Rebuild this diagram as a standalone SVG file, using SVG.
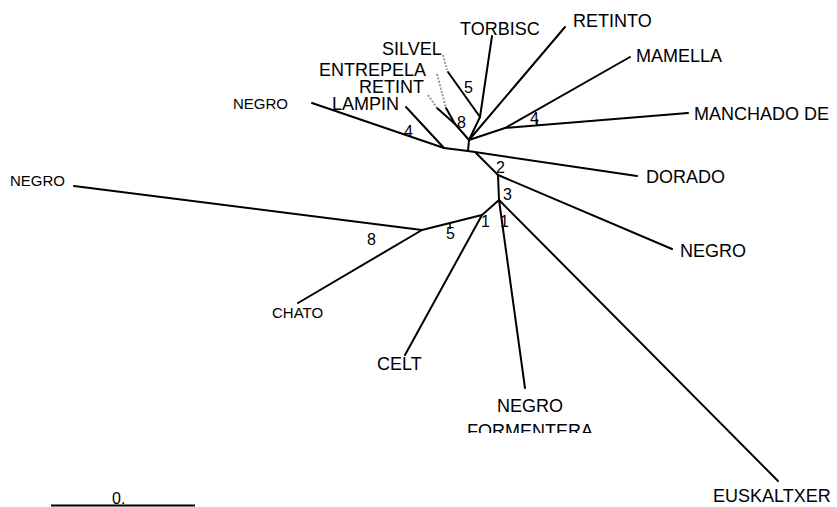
<svg xmlns="http://www.w3.org/2000/svg" width="837" height="507" viewBox="0 0 837 507">
<style>
.lbl{font-family:"Liberation Sans",Arial,sans-serif;font-size:18px;fill:#000}
.sm{font-size:15px}
.num{font-family:"Liberation Sans",Arial,sans-serif;font-size:16px;fill:#000}
.br{stroke:#000;stroke-width:2;fill:none;stroke-linecap:round}
.dt{stroke:#999;stroke-width:2;fill:none;stroke-dasharray:2 1.5}
.tk{stroke:#000;stroke-width:1.5;fill:none}
</style>
<defs>
<clipPath id="clipF"><rect x="0" y="0" width="837" height="433"/></clipPath>
</defs>
<rect width="837" height="507" fill="#fff"/>
<g id="connectors">
<line class="br" x1="444" y1="148" x2="468" y2="151"/>
<line class="br" x1="468" y1="151" x2="469" y2="140"/>
<line class="br" x1="480" y1="117" x2="469" y2="140"/>
<line class="br" x1="455" y1="124" x2="469" y2="140"/>
<line class="br" x1="469" y1="140" x2="505" y2="128"/>
<line class="br" x1="476" y1="153" x2="498" y2="175"/>
<line class="br" x1="498" y1="175" x2="499" y2="200"/>
<line class="br" x1="499" y1="200" x2="482" y2="215"/>
<line class="br" x1="482" y1="215" x2="422" y2="230"/>
<line class="br" x1="312" y1="103" x2="444" y2="148"/>
<line class="br" x1="406" y1="107" x2="444" y2="148"/>
<line class="br" x1="437" y1="108" x2="455" y2="124"/>
<line class="dt" x1="428" y1="95" x2="437" y2="108"/>
<line class="br" x1="446" y1="108" x2="455" y2="124"/>
<line class="dt" x1="437" y1="74" x2="446" y2="108"/>
<line class="br" x1="448" y1="72" x2="480" y2="117"/>
<line class="dt" x1="443" y1="55" x2="447" y2="70"/>
<line class="br" x1="492" y1="36" x2="480" y2="117"/>
<line class="br" x1="565" y1="27" x2="469" y2="140"/>
<line class="br" x1="505" y1="128" x2="630" y2="57"/>
<line class="br" x1="505" y1="128" x2="688" y2="113"/>
<line class="br" x1="468" y1="151" x2="637" y2="176"/>
<line class="br" x1="498" y1="175" x2="672" y2="249"/>
<line class="br" x1="499" y1="200" x2="778" y2="481"/>
<line class="br" x1="499" y1="200" x2="525" y2="388"/>
<line class="br" x1="482" y1="215" x2="405" y2="355"/>
<line class="br" x1="422" y1="230" x2="74" y2="186"/>
<line class="br" x1="422" y1="230" x2="298" y2="303"/>
<line class="tk" x1="537" y1="119" x2="537" y2="126"/>
<line class="tk" x1="450" y1="224" x2="450" y2="229"/>
<line x1="51" y1="505.5" x2="195" y2="505.5" stroke="#000" stroke-width="2"/>
</g>
<g id="numbers">
<text class="num" x="464" y="93">5</text>
<text class="num" x="457" y="128">8</text>
<text class="num" x="404" y="137">4</text>
<text class="num" x="530" y="124">4</text>
<text class="num" x="496" y="173">2</text>
<text class="num" x="503" y="200">3</text>
<text class="num" x="481" y="227">1</text>
<text class="num" x="500" y="227">1</text>
<text class="num" x="446" y="239">5</text>
<text class="num" x="367" y="245">8</text>
<text class="num" x="112" y="504">0.</text>
</g>
<g id="n-torbisc"><text class="lbl" x="460" y="35">TORBISC</text></g>
<g id="n-retinto"><text class="lbl" x="573" y="27">RETINTO</text></g>
<g id="n-mamella"><text class="lbl" x="636" y="62">MAMELLA</text></g>
<g id="n-manchado"><text class="lbl" x="694" y="120">MANCHADO DE</text></g>
<g id="n-dorado"><text class="lbl" x="646" y="183">DORADO</text></g>
<g id="n-negro-r"><text class="lbl" x="680" y="257">NEGRO</text></g>
<g id="n-euskaltxer"><text class="lbl" x="713" y="502">EUSKALTXER</text></g>
<g id="n-negro-form"><text class="lbl" x="497" y="412">NEGRO</text><text class="lbl" x="467" y="437" clip-path="url(#clipF)">FORMENTERA</text></g>
<g id="n-celt"><text class="lbl" x="377" y="370">CELT</text></g>
<g id="n-chato"><text class="lbl sm" x="272" y="318">CHATO</text></g>
<g id="n-negro-l"><text class="lbl sm" x="10" y="186">NEGRO</text></g>
<g id="n-negro-ul"><text class="lbl sm" x="233" y="109">NEGRO</text></g>
<g id="n-lampin"><text class="lbl" x="332" y="110">LAMPIN</text></g>
<g id="n-retint"><text class="lbl" x="359" y="93">RETINT</text></g>
<g id="n-entrepela"><text class="lbl" x="319" y="76">ENTREPELA</text></g>
<g id="n-silvel"><text class="lbl" x="382" y="55">SILVEL</text></g>
</svg>
